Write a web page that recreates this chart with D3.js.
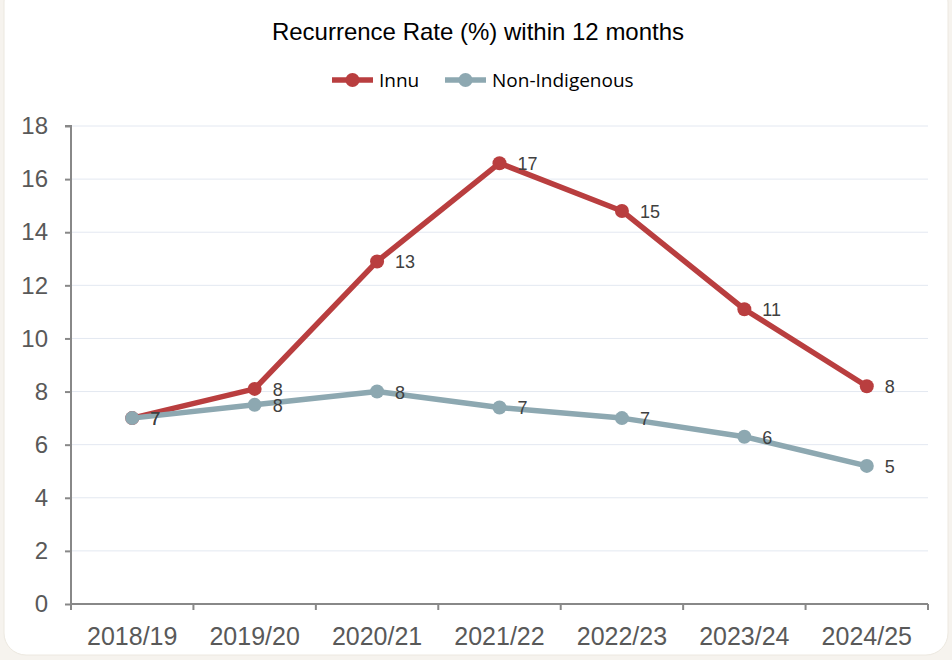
<!DOCTYPE html>
<html>
<head>
<meta charset="utf-8">
<script src="https://cdn.jsdelivr.net/npm/d3@7"></script>
<style>
  body { margin: 0; background: #f6f3ee; }
  svg { display: block; }
</style>
</head>
<body>
<div id="chart"></div>
<script>
// data
var years = ['2018/19', '2019/20', '2020/21', '2021/22', '2022/23', '2023/24', '2024/25'];
var innu = [7.0, 8.1, 12.9, 16.6, 14.8, 11.1, 8.2];
var nonIndigenous = [7.0, 7.5, 8.0, 7.4, 7.0, 6.3, 5.2];
var yTicks = [0, 2, 4, 6, 8, 10, 12, 14, 16, 18];

var series = [
  { name: 'Innu', values: innu, color: '#b93e3f' },
  { name: 'Non-Indigenous', values: nonIndigenous, color: '#8da8b1' }
];

var W = 952, H = 660;
var svg = d3.select('#chart').append('svg').attr('width', W).attr('height', H);

svg.append('rect')
  .attr('x', 4).attr('y', -20).attr('width', 944).attr('height', 675)
  .attr('rx', 22).attr('fill', '#ffffff').attr('stroke', '#ece8e0');

var xScale = d3.scaleBand().domain(years).range([71, 928]);
var yScale = d3.scaleLinear().domain([0, 18]).range([604, 126]);

// grid
svg.append('g').selectAll('line').data(yTicks.filter(d => d > 0)).enter().append('line')
  .attr('x1', 71).attr('x2', 928)
  .attr('y1', d => yScale(d)).attr('y2', d => yScale(d))
  .attr('stroke', '#e3e8f1').attr('stroke-width', 1);

var yAxis = d3.axisLeft().scale(yScale).tickValues(yTicks).tickSize(6).tickPadding(17);
var gy = svg.append('g').attr('transform', 'translate(71,0)').call(yAxis);
gy.select('.domain').attr('stroke', '#888').attr('stroke-width', 2).attr('d', 'M-6,126H0V604');
gy.selectAll('.tick line').attr('stroke', '#888').attr('stroke-width', 2);
gy.selectAll('.tick text').attr('fill', '#595959').style('font', '24px "Liberation Sans", Arial, sans-serif');

// x axis with ticks at band edges
var gx = svg.append('g').attr('transform', 'translate(0,604)');
gx.append('line').attr('x1', 71).attr('x2', 928).attr('stroke', '#888').attr('stroke-width', 2);
var edges = years.map(d => xScale(d)).concat([xScale.range()[1]]);
gx.selectAll('.edge').data(edges).enter().append('line')
  .attr('x1', d => d).attr('x2', d => d).attr('y1', 0).attr('y2', 6)
  .attr('stroke', '#888').attr('stroke-width', 2);
gx.selectAll('text').data(years).enter().append('text')
  .attr('x', d => xScale(d) + xScale.bandwidth() / 2).attr('y', 41)
  .attr('text-anchor', 'middle').attr('fill', '#595959')
  .style('font', '25px "Liberation Sans", Arial, sans-serif')
  .text(d => d);

var cx = d => xScale(d) + xScale.bandwidth() / 2;
var line = d3.line().x((v, i) => cx(years[i])).y(v => yScale(v));

series.forEach(function(s) {
  svg.append('path').datum(s.values)
    .attr('fill', 'none').attr('stroke', s.color).attr('stroke-width', 5.5)
    .attr('stroke-linejoin', 'round').attr('d', line);
  svg.append('g').selectAll('circle').data(s.values).enter().append('circle')
    .attr('cx', (v, i) => cx(years[i])).attr('cy', v => yScale(v)).attr('r', 7)
    .attr('fill', s.color);
});

series.forEach(function(s) {
  svg.append('g').selectAll('text').data(s.values).enter().append('text')
    .attr('x', (v, i) => cx(years[i]) + 18).attr('y', v => yScale(v) + 7)
    .attr('fill', '#404040')
    .style('font', '18px "Liberation Sans", Arial, sans-serif')
    .text(v => Math.round(v));
});

// title
svg.append('text').attr('x', 478).attr('y', 40).attr('text-anchor', 'middle')
  .attr('fill', '#000').style('font', '24px "Liberation Sans", Arial, sans-serif')
  .text('Recurrence Rate (%) within 12 months');

// legend
var legendX = [332, 445];
series.forEach(function(s, i) {
  var g = svg.append('g').attr('transform', 'translate(' + legendX[i] + ',80)');
  g.append('line').attr('x1', 0).attr('x2', 41).attr('stroke', s.color).attr('stroke-width', 5.5);
  g.append('circle').attr('cx', 20.5).attr('r', 7).attr('fill', s.color);
  g.append('text').attr('x', 47).attr('y', 7).attr('fill', '#000')
    .style('font', '19px "Open Sans", sans-serif').text(s.name);
});
</script>
</body>
</html>
